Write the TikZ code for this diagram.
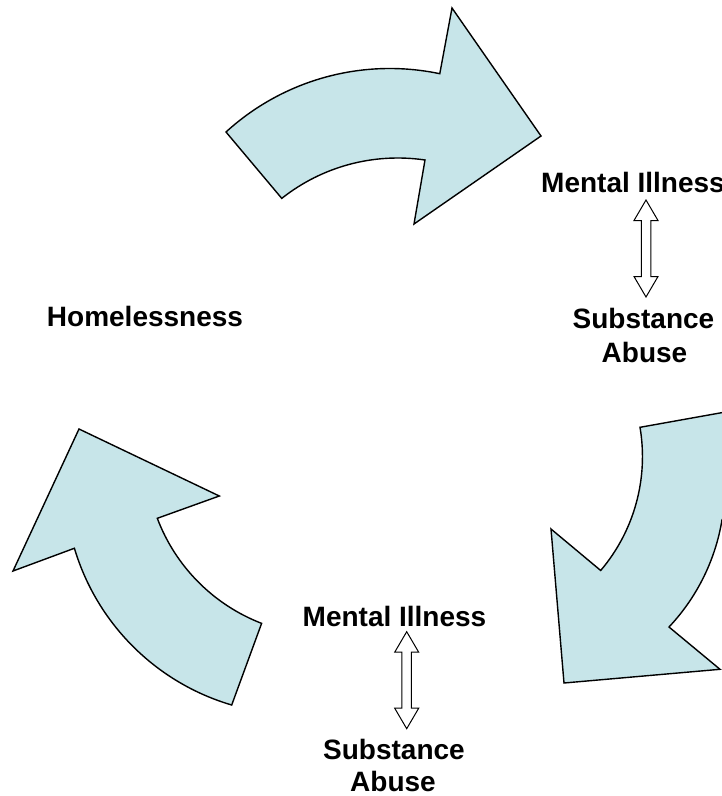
\documentclass[tikz,border=0pt]{standalone}
\usepackage{fontspec}
\setmainfont{Liberation Sans}
\definecolor{arrowfill}{RGB}{199,229,233}
\begin{document}
\begin{tikzpicture}[x=1pt,y=-1pt,
  bigarrow/.style={draw=black, line width=1.4pt, fill=arrowfill, line join=miter},
  dbl/.style={draw=black, fill=white, line width=1pt, line join=miter},
  lbl/.style={font=\bfseries\fontsize{28}{34}\selectfont, inner sep=0pt, anchor=base},
  pics/dblarrow/.style={code={
    \draw[dbl] (0,0) -- (12,20.5) -- (4.75,20.5) -- (4.75,76.5) -- (12,76.5) -- (0,97)
      -- (-12,76.5) -- (-4.75,76.5) -- (-4.75,20.5) -- (-12,20.5) -- cycle;}}]
\useasboundingbox (0,0) rectangle (722,796);
\clip (0,0) rectangle (722,796);
\fill[white] (0,0) rectangle (722,796);

% top arrow
\draw[bigarrow] (226,132) arc[start angle=-132.4, end angle=-78.1, radius=242.8]
  -- (452,8) -- (541,136) -- (414,224) -- (425,160)
  arc[start angle=-81.6, end angle=-128.4, radius=186.7]
  -- cycle;

% right arrow
\draw[bigarrow] (750,407.6) -- (640,427.3)
  arc[start angle=-9.6, end angle=40.3, radius=176]
  -- (551,529) -- (564,683) -- (720,669.3) -- (669,627)
  arc[start angle=43.3, end angle=9.4, radius=204.7]
  -- (750,470) -- cycle;

% left arrow
\draw[bigarrow] (79,429) -- (219.3,496) -- (157.3,518.3)
  arc[start angle=159.3, end angle=111.1, radius=181.3]
  -- (231.7,705)
  arc[start angle=106.4, end angle=163.4, radius=232.7]
  -- (13,571) -- cycle;

% labels
\node[lbl] (home) at (145,326) {Homelessness};
\node[lbl] (mi1) at (633,192) {Mental Illness};
\node[lbl] (sa1) at (643.5,328) {Substance};
\node[lbl] (ab1) at (644.5,362) {Abuse};
\node[lbl] (mi2) at (394.5,626) {Mental Illness};
\node[lbl] (sa2) at (394,759) {Substance};
\node[lbl] (ab2) at (393,791) {Abuse};

% double arrows
\pic at (646,200) {dblarrow};
\pic at (406.7,631.7) {dblarrow};
\end{tikzpicture}
\end{document}
